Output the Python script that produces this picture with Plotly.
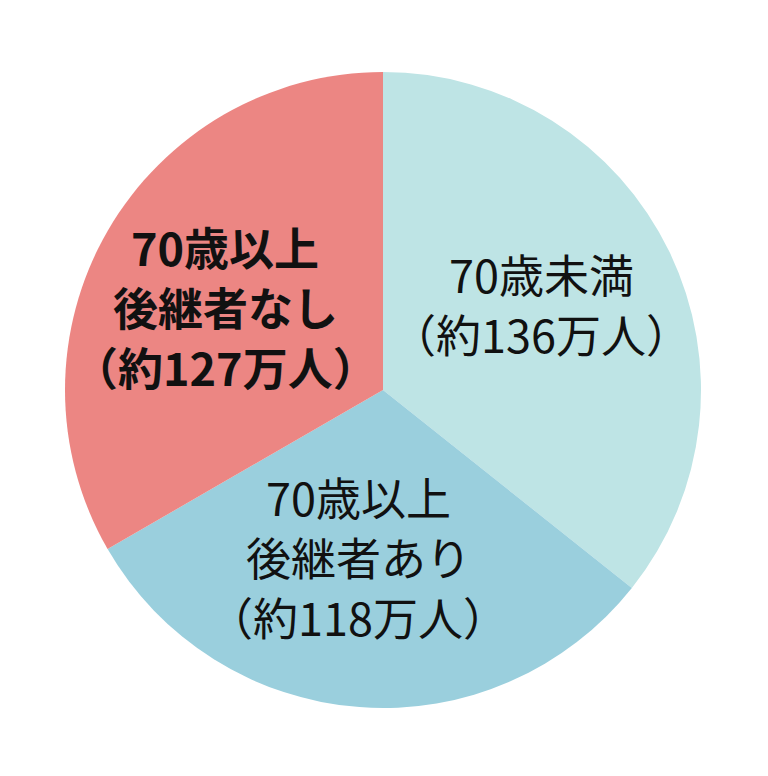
import plotly.graph_objects as go

categories = ["70歳未満", "70歳以上後継者あり", "70歳以上後継者なし"]
values = [136, 118, 127]
label_lines = [
    ["70歳未満", "（約136万人）"],
    ["70歳以上", "後継者あり", "（約118万人）"],
    ["70歳以上", "後継者なし", "（約127万人）"],
]
colors = ["#BEE4E5", "#9ACFDD", "#EC8683"]
bold = [False, False, True]

W, H = 768, 776
OFF = 8  # page body margin
cx, cy, r = 383 - OFF, 390 - OFF, 318

fig = go.Figure(go.Pie(
    labels=categories,
    values=values,
    sort=False,
    direction="clockwise",
    rotation=0,
    marker=dict(colors=colors, line=dict(width=0)),
    textinfo="none",
    hoverinfo="label+value",
    domain=dict(x=[(cx - r) / W, (cx + r) / W], y=[1 - (cy + r) / H, 1 - (cy - r) / H]),
    showlegend=False,
))

# label placement (pixel centers in the reference, baseline-corrected)
label_pos = [(541, 303), (358, 556), (225, 306)]
line_gap = 60
for lines, (lx, ly), b in zip(label_lines, label_pos, bold):
    n = len(lines)
    for i, t in enumerate(lines):
        y = ly + (i - (n - 1) / 2) * line_gap - OFF
        fig.add_annotation(
            x=(lx - OFF) / W, y=1 - y / H, xref="paper", yref="paper",
            text=f"<b>{t}</b>" if b else t, showarrow=False,
            font=dict(family="Noto Sans CJK JP", size=45, color="#111111"),
            xanchor="center", yanchor="middle",
        )

fig.update_layout(
    width=W, height=H,
    margin=dict(l=0, r=0, t=0, b=0),
    paper_bgcolor="white", plot_bgcolor="white",
)
fig.write_html("out.html")
